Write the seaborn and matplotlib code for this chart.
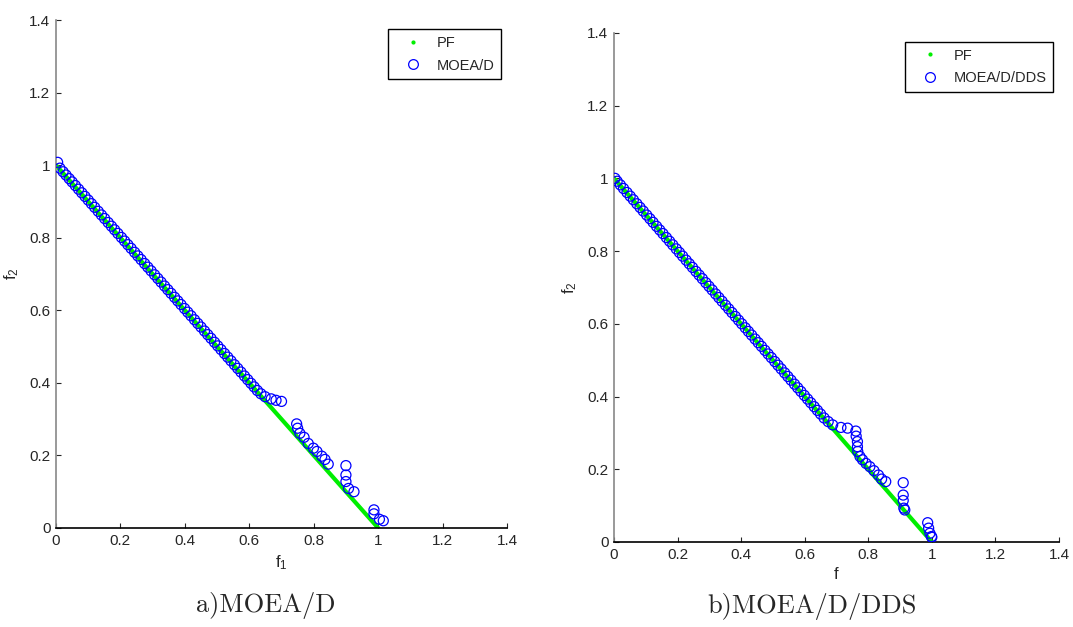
import numpy as np
import pandas as pd
import seaborn as sns
import matplotlib.pyplot as plt
from matplotlib.lines import Line2D

# Pareto front end points (f2 = 1 - f1)
pf_f1 = [0.0, 1.0]
pf_f2 = [1.0, 0.0]

# MOEA/D solutions
moead_f1 = [0.005, 0.012, 0.022, 0.031, 0.041, 0.050, 0.060, 0.070, 0.080, 0.090,
            0.100, 0.110, 0.120, 0.131, 0.141, 0.151, 0.162, 0.172, 0.182, 0.192,
            0.203, 0.213, 0.223, 0.233, 0.244, 0.254, 0.264, 0.275, 0.285, 0.295,
            0.306, 0.316, 0.326, 0.337, 0.347, 0.357, 0.368, 0.378, 0.388, 0.399,
            0.409, 0.419, 0.430, 0.440, 0.450, 0.461, 0.471, 0.481, 0.492, 0.502,
            0.512, 0.523, 0.533, 0.543, 0.554, 0.564, 0.574, 0.585, 0.595, 0.605,
            0.615, 0.625, 0.636,
            0.649, 0.668, 0.683, 0.700, 0.747, 0.750, 0.757, 0.770, 0.783, 0.799,
            0.810, 0.825, 0.835, 0.845, 0.900, 0.900, 0.900, 0.908, 0.925, 0.987,
            0.987, 1.004, 1.016]
moead_f2 = [1.008, 0.992, 0.982, 0.973, 0.963, 0.954, 0.944, 0.934, 0.924, 0.914,
            0.904, 0.894, 0.884, 0.873, 0.863, 0.853, 0.842, 0.832, 0.822, 0.812,
            0.801, 0.791, 0.781, 0.771, 0.760, 0.750, 0.740, 0.729, 0.719, 0.709,
            0.698, 0.688, 0.678, 0.667, 0.657, 0.647, 0.636, 0.626, 0.616, 0.605,
            0.595, 0.585, 0.574, 0.564, 0.554, 0.543, 0.533, 0.523, 0.512, 0.502,
            0.492, 0.481, 0.471, 0.461, 0.450, 0.440, 0.430, 0.419, 0.409, 0.399,
            0.389, 0.379, 0.370,
            0.362, 0.356, 0.352, 0.349, 0.287, 0.275, 0.261, 0.250, 0.233, 0.220,
            0.211, 0.198, 0.189, 0.176, 0.172, 0.146, 0.128, 0.109, 0.100, 0.050,
            0.039, 0.024, 0.020]

# MOEA/D/DDS solutions
dds_f1 = [0.003, 0.010, 0.020, 0.030, 0.041, 0.051, 0.061, 0.072, 0.082, 0.092,
          0.103, 0.113, 0.123, 0.134, 0.144, 0.154, 0.165, 0.175, 0.185, 0.196,
          0.206, 0.216, 0.227, 0.237, 0.247, 0.258, 0.268, 0.278, 0.289, 0.299,
          0.309, 0.320, 0.330, 0.340, 0.351, 0.361, 0.371, 0.382, 0.392, 0.402,
          0.413, 0.423, 0.433, 0.444, 0.454, 0.464, 0.475, 0.485, 0.495, 0.506,
          0.516, 0.526, 0.537, 0.547, 0.557, 0.568, 0.578, 0.588, 0.599, 0.609,
          0.619, 0.630, 0.640, 0.650, 0.661, 0.674,
          0.688, 0.714, 0.735, 0.761, 0.762, 0.766, 0.766, 0.767, 0.774, 0.782,
          0.793, 0.805, 0.818, 0.832, 0.842, 0.855, 0.910, 0.910, 0.910, 0.912,
          0.915, 0.987, 0.990, 0.994, 0.999, 1.000]
dds_f2 = [1.000, 0.992, 0.982, 0.972, 0.961, 0.951, 0.941, 0.930, 0.920, 0.910,
          0.899, 0.889, 0.879, 0.868, 0.858, 0.848, 0.837, 0.827, 0.817, 0.806,
          0.796, 0.786, 0.775, 0.765, 0.755, 0.744, 0.734, 0.724, 0.713, 0.703,
          0.693, 0.682, 0.672, 0.662, 0.651, 0.641, 0.631, 0.620, 0.610, 0.600,
          0.589, 0.579, 0.569, 0.558, 0.548, 0.538, 0.527, 0.517, 0.507, 0.496,
          0.486, 0.476, 0.465, 0.455, 0.445, 0.434, 0.424, 0.414, 0.403, 0.393,
          0.383, 0.372, 0.362, 0.352, 0.341, 0.331,
          0.322, 0.315, 0.313, 0.305, 0.291, 0.276, 0.262, 0.249, 0.235, 0.226,
          0.216, 0.207, 0.196, 0.184, 0.173, 0.166, 0.163, 0.129, 0.114, 0.093,
          0.088, 0.053, 0.038, 0.024, 0.015, 0.013]

ticks = [0, 0.2, 0.4, 0.6, 0.8, 1, 1.2, 1.4]
tick_labels = ['0', '0.2', '0.4', '0.6', '0.8', '1', '1.2', '1.4']

sns.set_style('ticks')
plt.rcParams['font.family'] = ['Liberation Sans', 'DejaVu Sans']
plt.rcParams['xtick.direction'] = 'in'
plt.rcParams['ytick.direction'] = 'in'

GREEN = '#00ee00'
BLUE = '#0000ff'

fig = plt.figure(figsize=(10.73, 6.27), dpi=100)
ax_a = fig.add_axes([0.0522, 0.1579, 0.4203, 0.810])
ax_b = fig.add_axes([0.5722, 0.1356, 0.4147, 0.812])

pf = pd.DataFrame({'f1': pf_f1, 'f2': pf_f2})
panels = [
    (ax_a, moead_f1, moead_f2, 'MOEA/D', '$\\mathregular{f_1}$'),
    (ax_b, dds_f1, dds_f2, 'MOEA/D/DDS', 'f'),
]

for ax, xs, ys, name, xlab in panels:
    sol = pd.DataFrame({'f1': xs, 'f2': ys})
    sns.lineplot(data=pf, x='f1', y='f2', ax=ax, color=GREEN, linewidth=3,
                 legend=False, zorder=2)
    sns.scatterplot(data=sol, x='f1', y='f2', ax=ax, marker='o', s=52,
                    facecolors='none', edgecolor=BLUE, linewidth=0.9,
                    legend=False, zorder=3)
    ax.set_xlim(0, 1.4)
    ax.set_ylim(0, 1.4)
    ax.set_xticks(ticks)
    ax.set_xticklabels(tick_labels)
    ax.set_yticks(ticks)
    ax.set_yticklabels(tick_labels)
    ax.tick_params(labelsize=11, length=3.5, width=0.8, pad=4)
    sns.despine(ax=ax)
    ax.spines['left'].set_color('#888888')
    ax.spines['left'].set_linewidth(1.2)
    ax.spines['bottom'].set_color('black')
    ax.spines['bottom'].set_linewidth(1.2)
    ax.set_xlabel(xlab, fontsize=12, labelpad=4)
    ax.set_ylabel('$\\mathregular{f_2}$', fontsize=12, labelpad=6)

    handles = [
        Line2D([], [], marker='.', color=GREEN, linestyle='None', markersize=4),
        Line2D([], [], marker='o', markerfacecolor='none', markeredgecolor=BLUE,
               linestyle='None', markersize=7, markeredgewidth=0.9),
    ]
    leg = ax.legend(handles, ['PF', name], loc='upper right',
                    bbox_to_anchor=(0.987, 0.982), borderaxespad=0,
                    fancybox=False, edgecolor='black', framealpha=1,
                    fontsize=10.5, handlelength=2.6, handletextpad=0.3,
                    borderpad=0.45, labelspacing=0.6)
    leg.get_frame().set_linewidth(1.0)

fig.text(0.248, 0.034, 'a)MOEA/D', family='cmr10', fontsize=19,
         ha='center', va='center')
fig.text(0.757, 0.032, 'b)MOEA/D/DDS', family='cmr10', fontsize=19,
         ha='center', va='center')

fig.savefig('out.png', dpi=100)
